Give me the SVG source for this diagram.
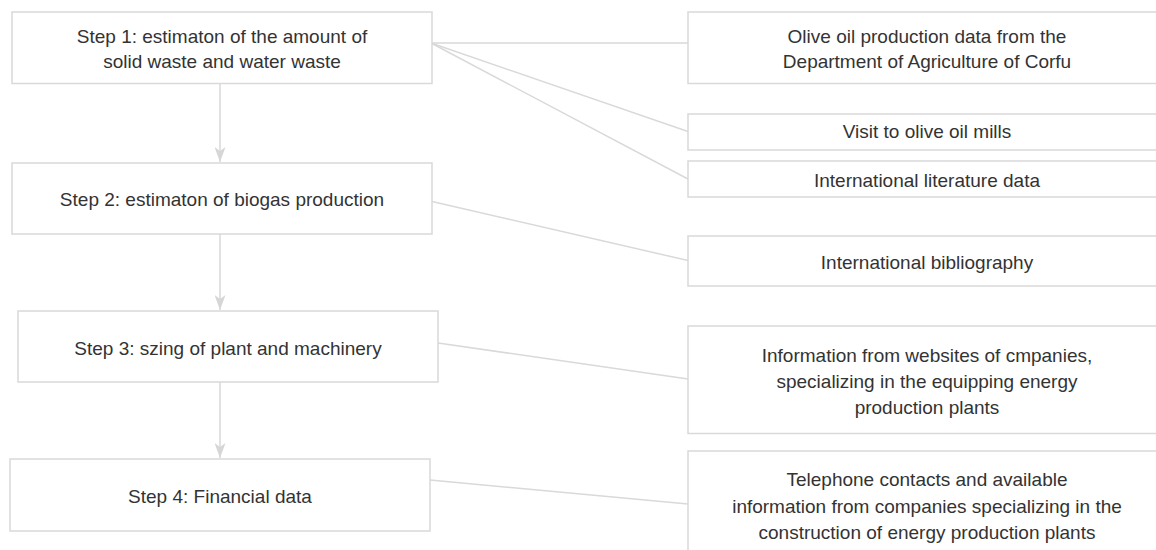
<svg xmlns="http://www.w3.org/2000/svg" width="1156" height="550" viewBox="0 0 1156 550">
<defs>
<style>
.box{fill:#ffffff;stroke:#d9d9d9;stroke-width:1.5}
.ln{fill:none;stroke:#d9d9d9;stroke-width:1.5}
.t{font-family:"Liberation Sans",Arial,sans-serif;font-size:19px;fill:#333333;text-anchor:middle}
</style>
<marker id="ah" markerWidth="16" markerHeight="11" refX="15" refY="5.5" orient="auto" markerUnits="userSpaceOnUse" viewBox="0 0 16 11">
<path d="M0,0 L4,5.5 L0,11 L15,5.5 Z" fill="#d6d6d6"/>
</marker>
</defs>
<rect width="1156" height="550" fill="#ffffff"/>
<g id="connectors">
<line class="ln" x1="431" y1="43" x2="688" y2="43"/>
<line class="ln" x1="431" y1="43" x2="688" y2="131.5"/>
<line class="ln" x1="431" y1="43" x2="688" y2="179"/>
<line class="ln" x1="432" y1="201.5" x2="688" y2="260.5"/>
<line class="ln" x1="438" y1="343" x2="688" y2="379"/>
<line class="ln" x1="430" y1="480" x2="688" y2="504"/>
<line class="ln" x1="220" y1="83.5" x2="220" y2="162" marker-end="url(#ah)"/>
<line class="ln" x1="220" y1="234" x2="220" y2="310" marker-end="url(#ah)"/>
<line class="ln" x1="220" y1="382" x2="220" y2="458" marker-end="url(#ah)"/>
</g>
<g id="step1">
<rect class="box" x="12" y="12" width="420" height="71.5"/>
<text class="t" x="222" y="43">Step 1: estimaton of the amount of</text>
<text class="t" x="222" y="68">solid waste and water waste</text>
</g>
<g id="step2">
<rect class="box" x="12" y="163" width="420" height="71"/>
<text class="t" x="222" y="206">Step 2: estimaton of biogas production</text>
</g>
<g id="step3">
<rect class="box" x="18" y="311" width="420" height="71"/>
<text class="t" x="228" y="355">Step 3: szing of plant and machinery</text>
</g>
<g id="step4">
<rect class="box" x="10" y="459" width="420" height="72"/>
<text class="t" x="220" y="503">Step 4: Financial data</text>
</g>
<g id="src1">
<rect class="box" x="688" y="12" width="500" height="71.5"/>
<text class="t" x="927" y="43">Olive oil production data from the</text>
<text class="t" x="927" y="68">Department of Agriculture of Corfu</text>
</g>
<g id="src2">
<rect class="box" x="688" y="114" width="500" height="36"/>
<text class="t" x="927" y="138">Visit to olive oil mills</text>
</g>
<g id="src3">
<rect class="box" x="688" y="161" width="500" height="36"/>
<text class="t" x="927" y="186.5">International literature data</text>
</g>
<g id="src4">
<rect class="box" x="688" y="236" width="500" height="50"/>
<text class="t" x="927" y="269">International bibliography</text>
</g>
<g id="src5">
<rect class="box" x="688" y="326" width="500" height="107.5"/>
<text class="t" x="927" y="361.5">Information from websites of cmpanies,</text>
<text class="t" x="927" y="388">specializing in the equipping energy</text>
<text class="t" x="927" y="414">production plants</text>
</g>
<g id="src6">
<rect class="box" x="688" y="451" width="500" height="120"/>
<text class="t" x="927" y="486">Telephone contacts and available</text>
<text class="t" x="927" y="513">information from companies specializing in the</text>
<text class="t" x="927" y="539">construction of energy production plants</text>
</g>
</svg>
